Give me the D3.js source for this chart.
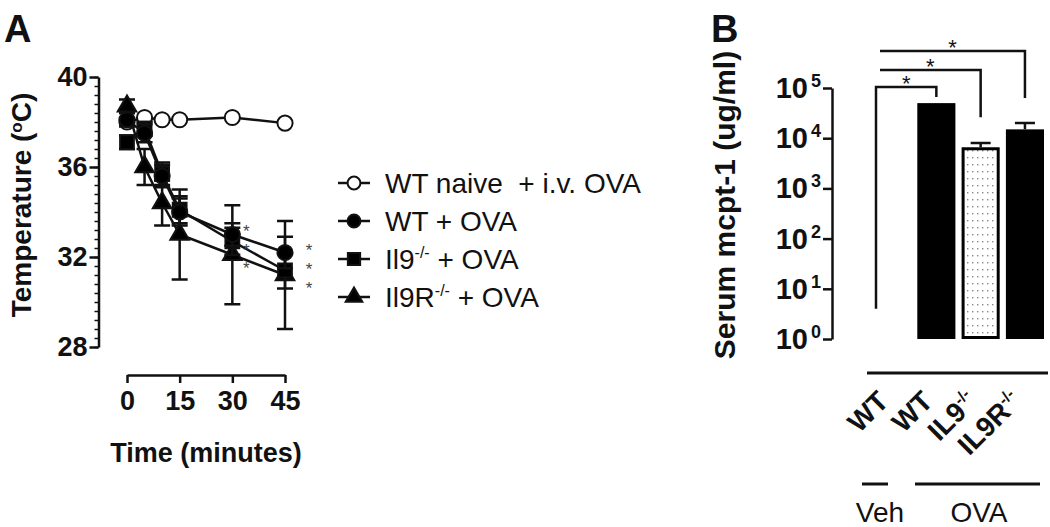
<!DOCTYPE html>
<html>
<head>
<meta charset="utf-8">
<script src="https://cdn.jsdelivr.net/npm/d3@7"></script>
<style>
  body { margin: 0; background: #fff; }
  svg { display: block; }
  text { font-family: "Liberation Sans", Arial, sans-serif; fill: #111; white-space: pre; }
</style>
</head>
<body>
<div id="chart"></div>
<script>
// ---------- Panel A data: body temperature over time ----------
const times = [0, 5, 10, 15, 30, 45];
const naiveMean = [38.0, 38.2, 38.1, 38.1, 38.2, 37.95];
const wtMean = [38.1, 37.5, 35.6, 34.0, 33.0, 32.2];
const wtErr = [0.3, 0.4, 0.5, 0.6, 0.5, 0.7];
const il9Mean = [37.1, 37.7, 35.7, 34.1, 32.7, 31.4];
const il9Err = [0.3, 0.3, 0.5, 0.6, 0.6, 0.8];
const il9rMean = [38.7, 36.0, 34.4, 33.0, 32.1, 31.2];
const il9rErr = [0.3, 0.8, 1.0, 2.0, 2.2, 2.4];
const tempTicks = [28, 32, 36, 40];
const timeTicks = [0, 15, 30, 45];
// significance stars next to the 30 and 45 min points (time, temperature)
const starsA = [[30, 33.25], [30, 32.4], [30, 31.6], [45, 32.4], [45, 31.55], [45, 30.7]];
const legendLabels = [
  ["WT naive  + i.v. OVA", "", ""],
  ["WT + OVA", "", ""],
  ["Il9", "-/-", " + OVA"],
  ["Il9R", "-/-", " + OVA"]
];

// ---------- Panel B data: serum mcpt-1 ----------
const groups = ["vehWT", "ovaWT", "ovaIL9", "ovaIL9R"];
const groupLabels = ["WT", "WT", "IL9", "IL9R"];
const groupSup = ["", "", "-/-", "-/-"];
const mcptMean = [4, 50000, 6600, 15000];
const mcptErrTop = [null, null, 8000, 20000];
const logTicks = [1, 10, 100, 1000, 10000, 100000];
const logExp = [0, 1, 2, 3, 4, 5];
// brackets from the vehicle group to each OVA group (level, right leg end)
const brackets = [
  { to: "ovaWT", level: 1.05e5, end: 6.6e4 },
  { to: "ovaIL9", level: 2.28e5, end: 2.6e4 },
  { to: "ovaIL9R", level: 5.46e5, end: 6.3e4 }
];

const width = 1050;
const height = 527;

const svg = d3.select("#chart")
  .append("svg")
    .attr("width", width)
    .attr("height", height);

/*******************************/
/*           Panel A           */
/*******************************/
const xA = d3.scaleLinear().domain([0, 45]).range([127, 285]);
const yA = d3.scaleLinear().domain([28, 40]).range([347, 77]);
const axisX = 98.5;

svg.append("text")
  .text("A")
  .attr("x", 4).attr("y", 42)
  .attr("font-size", 38).attr("font-weight", "bold");

// minor ticks
svg.append("g")
  .attr("transform", `translate(${axisX},0)`)
  .call(d3.axisLeft(yA).tickValues(d3.range(28, 40.01, 0.4)).tickSize(4).tickSizeOuter(0).tickFormat(""))
  .call(g => g.select(".domain").remove())
  .call(g => g.selectAll("line").attr("stroke", "#111").attr("stroke-width", 1.5));

// major ticks + domain
const yAxisA = svg.append("g")
  .attr("transform", `translate(${axisX},0)`)
  .call(d3.axisLeft(yA).tickValues(tempTicks).tickSize(9).tickSizeOuter(0).tickPadding(2));
yAxisA.select(".domain").attr("stroke", "#111").attr("stroke-width", 2.5);
yAxisA.selectAll("line").attr("stroke", "#111").attr("stroke-width", 2.5);
yAxisA.selectAll("text")
  .attr("font-size", 27).attr("font-weight", "bold").attr("fill", "#111")
  .style("font-family", "'Liberation Sans', Arial, sans-serif");

const xAxisA = svg.append("g")
  .attr("transform", "translate(0,375)")
  .call(d3.axisBottom(xA).tickValues(timeTicks).tickSize(8).tickSizeOuter(0).tickPadding(8));
xAxisA.select(".domain").attr("stroke", "#111").attr("stroke-width", 2.5);
xAxisA.selectAll("line").attr("stroke", "#111").attr("stroke-width", 2.5);
xAxisA.selectAll("text")
  .attr("font-size", 27).attr("font-weight", "bold").attr("fill", "#111")
  .style("font-family", "'Liberation Sans', Arial, sans-serif");

svg.append("text")
  .text("Time (minutes)")
  .attr("x", 206).attr("y", 462)
  .attr("text-anchor", "middle")
  .attr("font-size", 27).attr("font-weight", "bold");

const yLabA = svg.append("text")
  .attr("transform", "translate(31,205) rotate(-90)")
  .attr("text-anchor", "middle")
  .attr("font-size", 28).attr("font-weight", "bold");
yLabA.append("tspan").text("Temperature (");
yLabA.append("tspan").text("o").attr("font-size", 17).attr("baseline-shift", "55%");
yLabA.append("tspan").text("C)");

// series
const seriesA = [
  { mean: naiveMean, err: null, shape: "circle", fill: "#fff" },
  { mean: il9rMean, err: il9rErr, shape: "triangle", fill: "#000" },
  { mean: il9Mean, err: il9Err, shape: "square", fill: "#000" },
  { mean: wtMean, err: wtErr, shape: "circle", fill: "#000" }
];
const lineA = d3.line().x(d => xA(d.t)).y(d => yA(d.v));
const symbolFor = shape => shape === "circle" ? d3.symbol(d3.symbolCircle, 180)
  : shape === "square" ? d3.symbol(d3.symbolSquare, 190)
  : d3.symbol(d3.symbolTriangle, 150);

seriesA.forEach(s => {
  const pts = times.map((t, i) => ({ t, v: s.mean[i], e: s.err ? s.err[i] : 0 }));
  const g = svg.append("g");
  if (s.err) {
    g.selectAll(".eb")
      .data(pts)
      .join("path")
        .attr("d", d => {
          const x = xA(d.t), y0 = yA(d.v - d.e), y1 = yA(d.v + d.e);
          return `M${x},${y0}V${y1}M${x - 8},${y0}H${x + 8}M${x - 8},${y1}H${x + 8}`;
        })
        .attr("stroke", "#111").attr("stroke-width", 2.5).attr("fill", "none");
  }
  g.append("path")
    .attr("d", lineA(pts))
    .attr("fill", "none").attr("stroke", "#111").attr("stroke-width", 2.5);
  g.selectAll(".pt")
    .data(pts)
    .join("path")
      .attr("transform", d => `translate(${xA(d.t)},${yA(d.v)})`)
      .attr("d", symbolFor(s.shape)())
      .attr("fill", s.fill).attr("stroke", "#111").attr("stroke-width", 2);
});

svg.selectAll(".starA")
  .data(starsA)
  .join("text")
    .text("*")
    .attr("x", d => xA(d[0]) + (d[0] === 45 ? 24 : 14))
    .attr("y", d => yA(d[1]) + 8)
    .attr("text-anchor", "middle")
    .attr("font-size", 17)
    .style("fill", "#444");

// legend
const legend = svg.append("g");
legendLabels.forEach((lab, i) => {
  const y = 183 + i * 38;
  const s = seriesA[[0, 3, 2, 1][i]];
  legend.append("line")
    .attr("x1", 338).attr("x2", 370).attr("y1", y).attr("y2", y)
    .attr("stroke", "#111").attr("stroke-width", 2.5);
  legend.append("path")
    .attr("transform", `translate(354,${y})`)
    .attr("d", (s.shape === "circle" ? d3.symbol(d3.symbolCircle, 130)
      : s.shape === "square" ? d3.symbol(d3.symbolSquare, 150) : d3.symbol(d3.symbolTriangle, 120))())
    .attr("fill", s.fill).attr("stroke", "#111").attr("stroke-width", 2);
  const t = legend.append("text")
    .attr("x", 385).attr("y", y + 10)
    .attr("font-size", 28);
  t.append("tspan").text(lab[0]);
  if (lab[1]) t.append("tspan").text(lab[1]).attr("font-size", 16).attr("baseline-shift", "70%");
  if (lab[2]) t.append("tspan").text(lab[2]);
});

/*******************************/
/*           Panel B           */
/*******************************/
const xB = d3.scaleBand().domain(groups).range([873, 1044]).paddingInner(0.14);
const yB = d3.scaleLog().domain([1, 1e5]).range([339, 88]);
const cx = k => xB(k) + xB.bandwidth() / 2;
const axisXB = 832;

svg.append("text")
  .text("B")
  .attr("x", 711).attr("y", 42)
  .attr("font-size", 38).attr("font-weight", "bold");

const yAxisB = svg.append("g")
  .attr("transform", `translate(${axisXB},0)`)
  .call(d3.axisLeft(yB).tickValues(logTicks).tickSize(9).tickSizeOuter(0).tickFormat(""));
yAxisB.select(".domain").attr("stroke", "#111").attr("stroke-width", 2.5);
yAxisB.selectAll("line").attr("stroke", "#111").attr("stroke-width", 2.5);

logTicks.forEach((v, i) => {
  svg.append("text")
    .text("10")
    .attr("x", 808).attr("y", yB(v) + 10)
    .attr("text-anchor", "end")
    .attr("font-size", 29).attr("font-weight", "bold");
  svg.append("text")
    .text(logExp[i])
    .attr("x", 811).attr("y", yB(v) - 1)
    .attr("font-size", 18).attr("font-weight", "bold");
});

svg.append("text")
  .text("Serum mcpt-1 (ug/ml)")
  .attr("transform", "translate(735,205) rotate(-90)")
  .attr("text-anchor", "middle")
  .attr("font-size", 30).attr("font-weight", "bold");

// dotted pattern for IL9-/- bar
const defs = svg.append("defs");
const pat = defs.append("pattern")
  .attr("id", "dots").attr("patternUnits", "userSpaceOnUse")
  .attr("width", 5).attr("height", 7);
pat.append("rect").attr("width", 5).attr("height", 7).attr("fill", "#fff");
pat.append("rect").attr("x", 2).attr("y", 3).attr("width", 1.4).attr("height", 1.4).attr("fill", "#888");

const barData = groups.map((k, i) => ({ k, v: mcptMean[i], e: mcptErrTop[i] }));

// error bars
svg.selectAll(".ebB")
  .data(barData.filter(d => d.e))
  .join("path")
    .attr("d", d => `M${cx(d.k)},${yB(d.v)}V${yB(d.e)}M${cx(d.k) - 10},${yB(d.e)}H${cx(d.k) + 10}`)
    .attr("stroke", "#111").attr("stroke-width", 2.5);

// bars (vehicle group is below the drawn range)
svg.selectAll(".bar")
  .data(barData.slice(1))
  .join("rect")
    .attr("x", d => xB(d.k) + (d.k === "ovaIL9" ? 1.5 : 0))
    .attr("width", d => xB.bandwidth() - (d.k === "ovaIL9" ? 3 : 0))
    .attr("y", d => yB(d.v) + (d.k === "ovaIL9" ? 1.5 : 0))
    .attr("height", d => yB(1) - yB(d.v) - (d.k === "ovaIL9" ? 3 : 0))
    .attr("fill", d => d.k === "ovaIL9" ? "url(#dots)" : "#000")
    .attr("stroke", d => d.k === "ovaIL9" ? "#000" : "none")
    .attr("stroke-width", 3);

// significance brackets
brackets.forEach((b, i) => {
  const xs = i === 0 ? xB("vehWT") + 3 : xB("vehWT") + 7;
  const yl = yB(b.level);
  let d = `M${xs},${yl}H${cx(b.to)}V${yB(b.end)}`;
  if (i === 0) d = `M${xs},${yB(mcptMean[0])}V${yl}H${cx(b.to)}V${yB(b.end)}`;
  svg.append("path")
    .attr("d", d)
    .attr("fill", "none").attr("stroke", "#111").attr("stroke-width", 2.5);
  svg.append("text")
    .text("*")
    .attr("x", (xs + cx(b.to)) / 2)
    .attr("y", yl + 4)
    .attr("text-anchor", "middle")
    .attr("font-size", 22);
});

// baseline under bars
svg.append("line")
  .attr("x1", 867).attr("x2", 1048).attr("y1", 373).attr("y2", 373)
  .attr("stroke", "#111").attr("stroke-width", 3);

// rotated group labels
groups.forEach((k, i) => {
  const t = svg.append("text")
    .attr("transform", `translate(${cx(k) - 2},403) rotate(-45)`)
    .attr("text-anchor", "end")
    .attr("font-size", 28).attr("font-weight", "bold");
  t.append("tspan").text(groupLabels[i]);
  if (groupSup[i]) t.append("tspan").text(groupSup[i]).attr("font-size", 16).attr("baseline-shift", "70%");
});

// treatment group lines
svg.append("line")
  .attr("x1", 862).attr("x2", 888).attr("y1", 484).attr("y2", 484)
  .attr("stroke", "#111").attr("stroke-width", 3);
svg.append("line")
  .attr("x1", 915).attr("x2", 1040).attr("y1", 484).attr("y2", 484)
  .attr("stroke", "#111").attr("stroke-width", 3);
svg.append("text")
  .text("Veh").attr("x", 880).attr("y", 522)
  .attr("text-anchor", "middle").attr("font-size", 28);
svg.append("text")
  .text("OVA").attr("x", 979).attr("y", 522)
  .attr("text-anchor", "middle").attr("font-size", 28);
</script>
</body>
</html>
